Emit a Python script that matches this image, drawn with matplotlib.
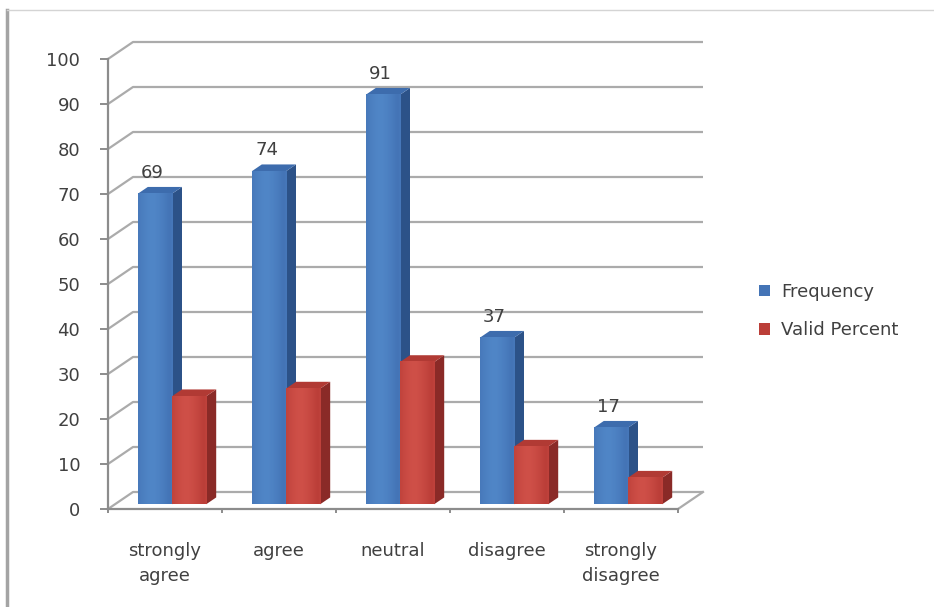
import matplotlib
matplotlib.use("Agg")
import matplotlib.pyplot as plt
from matplotlib.patches import Polygon, Patch
from matplotlib.lines import Line2D
from matplotlib.colors import LinearSegmentedColormap
import numpy as np

plt.rcParams['font.family'] = ['DejaVu Sans']

categories = ['strongly\nagree', 'agree', 'neutral', 'disagree', 'strongly\ndisagree']
frequency = [69, 74, 91, 37, 17]
valid_percent = [24.0, 25.7, 31.6, 12.8, 5.9]
series_names = ['Frequency', 'Valid Percent']
y_ticks = list(range(0, 101, 10))

# face colours: front edge, front centre, side, top
blue = ('#4474b6', '#5086c7', '#2c5288', '#3d6cad')
red = ('#bb3e38', '#cf5048', '#8a2a27', '#b13a34')
text_col = '#404040'
grid_col = '#ababab'
fs = 13

W, H = 934, 607
fig = plt.figure(figsize=(W / 100, H / 100), dpi=100)

# pixel scale of the plot area
px_x, px_y = 114.0, 4.5
x0_px, y0_px = 108, 509
xmax, ymax = 5.3, 104.0
ax = fig.add_axes([x0_px / W, (H - y0_px) / H, xmax * px_x / W, ymax * px_y / H])
ax.patch.set_alpha(0)

# 3d depth offset (data units)
DX = 25 / px_x
DY = 17 / px_y
F0 = 0.28   # depth of the bar front faces
BD = 0.40   # bar depth
bw = 0.30   # bar width

# back wall gridlines with slanted side-wall part
for v in y_ticks:
    ax.plot([0, DX, 5 + DX], [v, v + DY, v + DY], color=grid_col, lw=1.6,
            clip_on=False, zorder=1, solid_capstyle='butt')
ax.plot([5, 5 + DX], [0, DY], color=grid_col, lw=1.6, clip_on=False, zorder=1)

ramp = 1 - np.abs(np.linspace(-1, 1, 64)) ** 1.5
ramp = np.roll(ramp, -6)[None, :]


def bar3d(x0, h, cols):
    x1 = x0 + bw
    yb = F0 * DY
    top = h + F0 * DY
    ddx, ddy = BD * DX, BD * DY
    side = [(x1, yb), (x1 + ddx, yb + ddy), (x1 + ddx, top + ddy), (x1, top)]
    lid = [(x0, top), (x1, top), (x1 + ddx, top + ddy), (x0 + ddx, top + ddy)]
    ax.add_patch(Polygon(side, closed=True, fc=cols[2], ec='none', zorder=3))
    ax.add_patch(Polygon(lid, closed=True, fc=cols[3], ec='none', zorder=3))
    # front face with a soft horizontal shading
    cmap = LinearSegmentedColormap.from_list('f', [cols[0], cols[1]])
    ax.imshow(ramp, cmap=cmap, vmin=0, vmax=1, aspect='auto',
              extent=(x0, x1, yb, top), interpolation='bilinear', zorder=3.1)
    return top + ddy


for i in range(len(categories)):
    xc = i + 0.5 + F0 * DX
    top = bar3d(xc - bw, frequency[i], blue)
    ax.text(xc - bw / 2 - 0.02, top + 2.0, str(frequency[i]), ha='center',
            va='baseline', fontsize=fs, color=text_col, zorder=5)
    bar3d(xc, valid_percent[i], red)

ax.set_xlim(0, xmax)
ax.set_ylim(0, ymax)

# axes
for s in ['top', 'right']:
    ax.spines[s].set_visible(False)
ax.spines['left'].set_bounds(0, 100)
ax.spines['bottom'].set_bounds(0, 5)
for s in ['left', 'bottom']:
    ax.spines[s].set_color('#8c8c8c')
    ax.spines[s].set_linewidth(1.6)
    ax.spines[s].set_zorder(2)

ax.set_yticks(y_ticks)
ax.set_yticklabels([str(t) for t in y_ticks])
ax.tick_params(axis='y', direction='out', length=6, width=1.4, color='#8c8c8c',
               pad=14, labelsize=fs, labelcolor=text_col)
ax.set_xticks(range(0, 6))
ax.set_xticklabels([''] * 6)
ax.set_xticks(np.arange(len(categories)) + 0.5, minor=True)
ax.set_xticklabels(categories, minor=True, linespacing=1.45)
ax.tick_params(axis='x', which='major', direction='out', length=3, width=1.4,
               color='#8c8c8c')
ax.tick_params(axis='x', which='minor', length=0, pad=24, labelsize=fs,
               labelcolor=text_col)

# legend
handles = [Patch(fc=blue[0], ec='none'), Patch(fc=red[0], ec='none')]
fig.legend(handles, series_names, loc='center left',
           bbox_to_anchor=(743 / W, 1 - 311 / H), frameon=False,
           fontsize=fs, handlelength=0.6, handleheight=0.6,
           handletextpad=0.6, labelspacing=1.15, labelcolor=text_col)

# chart border
fig.add_artist(Line2D([7 / W, 7 / W], [0, 1 - 10 / H], color='#a4a4a4', lw=2.5))
fig.add_artist(Line2D([7 / W, 1], [1 - 10 / H, 1 - 10 / H], color='#d4d4d4', lw=1))

fig.savefig('out.png', dpi=100)
